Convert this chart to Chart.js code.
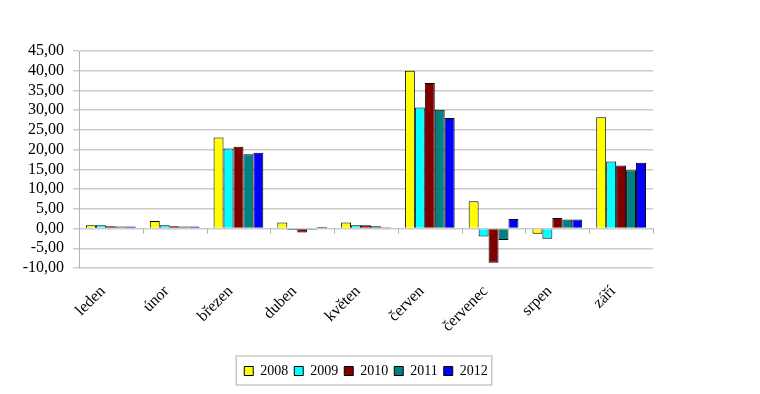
<!DOCTYPE html>
<html>
<head>
<meta charset="utf-8">
<script src="https://cdn.jsdelivr.net/npm/chart.js@4"></script>
<style>
  html, body { margin: 0; padding: 0; background: #fff; }
  #wrap { width: 760px; height: 394px; }
</style>
</head>
<body>
<div id="wrap"><canvas id="chart"></canvas></div>
<script>
const months = ['leden', 'únor', 'březen', 'duben', 'květen', 'červen', 'červenec', 'srpen', 'září'];
const years = ['2008', '2009', '2010', '2011', '2012'];
const v2008 = [0.85, 1.9, 23.1, 1.55, 1.55, 40.0, 6.9, -1.3, 28.2];
const v2009 = [0.85, 0.85, 20.3, -0.35, 0.85, 30.7, -2.0, -2.6, 17.0];
const v2010 = [0.6, 0.6, 20.75, -1.0, 0.85, 36.9, -8.7, 2.7, 16.0];
const v2011 = [0.5, 0.5, 18.8, -0.3, 0.6, 30.1, -2.9, 2.3, 14.8];
const v2012 = [0.5, 0.5, 19.2, 0.4, 0.3, 28.0, 2.4, 2.3, 16.7];
const colors = ['#ffff00', '#00ffff', '#800000', '#008080', '#0000ff'];

const series = [v2008, v2009, v2010, v2011, v2012];
const font = 'Liberation Serif';

// small tick marks between categories on the zero line, and a frame round the legend
const extras = {
    id: 'extras',
    beforeDatasetsDraw(chart) {
        const ctx = chart.ctx;
        const x = chart.scales.x, y = chart.scales.y;
        const y0 = y.getPixelForValue(0);
        const step = (x.right - x.left) / months.length;
        ctx.save();
        ctx.strokeStyle = '#b0b0b0';
        ctx.lineWidth = 1;
        ctx.beginPath();
        for (let i = 1; i <= months.length; i++) {
            const px = Math.round(x.left + i * step) + 0.5;
            ctx.moveTo(px, y0);
            ctx.lineTo(px, y0 + 5);
        }
        ctx.stroke();
        ctx.restore();
    },
    afterDraw(chart) {
        const boxes = chart.legend.legendHitBoxes;
        if (!boxes || !boxes.length) return;
        const minX = Math.min(...boxes.map(b => b.left));
        const maxX = Math.max(...boxes.map(b => b.left + b.width));
        const minY = Math.min(...boxes.map(b => b.top));
        const maxY = Math.max(...boxes.map(b => b.top + b.height));
        const ctx = chart.ctx;
        ctx.save();
        ctx.strokeStyle = '#c8c8c8';
        ctx.lineWidth = 1.5;
        ctx.strokeRect(minX - 8, minY - 8, maxX - minX + 12, maxY - minY + 15);
        ctx.restore();
    }
};

new Chart(document.getElementById('chart').getContext('2d'), {
    type: 'bar',
    data: {
        labels: months,
        datasets: years.map((yr, i) => ({
            label: yr,
            data: series[i],
            backgroundColor: colors[i],
            borderColor: '#000',
            borderWidth: 1,
            categoryPercentage: 0.78,
            barPercentage: 1
        }))
    },
    options: {
        responsive: true,
        maintainAspectRatio: false,
        animation: false,
        layout: { padding: { top: 51, right: 107, bottom: 6, left: 0 } },
        plugins: {
            tooltip: { enabled: false },
            legend: {
                position: 'bottom',
                fullSize: false,
                labels: {
                    font: { family: font, size: 14 },
                    color: '#000',
                    boxWidth: 9,
                    boxHeight: 9,
                    padding: 6
                }
            }
        },
        scales: {
            x: {
                grid: { display: false },
                border: { display: false },
                ticks: {
                    font: { family: font, size: 16 },
                    color: '#000',
                    minRotation: 45,
                    maxRotation: 45,
                    labelOffset: -8,
                    padding: 6
                },
                afterFit(scale) { scale.height = 90; }
            },
            y: {
                min: -10,
                max: 45,
                grid: { color: '#cccccc', lineWidth: 1.5, tickLength: 6 },
                border: { color: '#b0b0b0', width: 1 },
                ticks: {
                    stepSize: 5,
                    autoSkip: false,
                    font: { family: font, size: 16 },
                    color: '#000',
                    padding: 9,
                    callback: v => v.toFixed(2).replace('.', ',')
                },
                afterFit(scale) { scale.width = 79; }
            }
        }
    },
    plugins: [extras]
});
</script>
</body>
</html>
